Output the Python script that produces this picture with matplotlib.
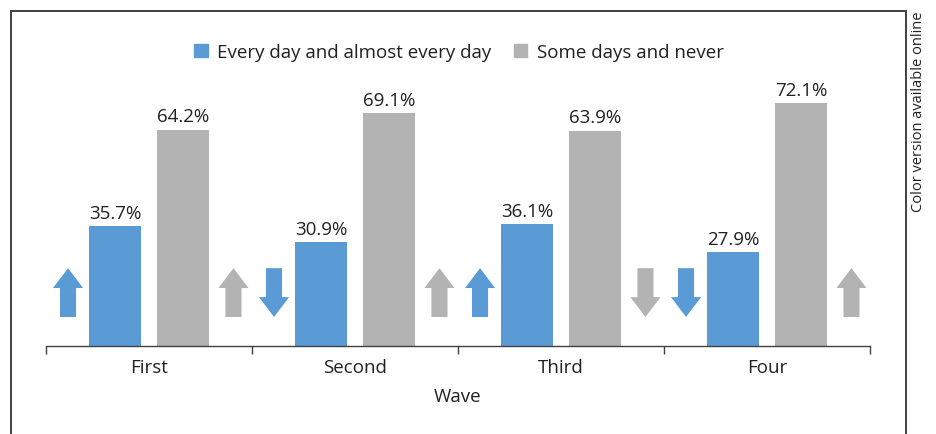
import matplotlib.pyplot as plt
import numpy as np
from matplotlib.patches import Patch, Polygon, Rectangle

waves = ["First", "Second", "Third", "Four"]
daily = [35.7, 30.9, 36.1, 27.9]
some_never = [64.2, 69.1, 63.9, 72.1]
# trend arrows: +1 up, -1 down
daily_trend = [1, -1, 1, -1]
some_trend = [1, 1, -1, 1]

BLUE = "#5b9bd5"
GRAY = "#b3b3b3"
TXT = "#231f20"

plt.rcParams["font.family"] = ["Open Sans", "DejaVu Sans"]

W, H, DPI = 936, 435, 100
fig = plt.figure(figsize=(W / DPI, H / DPI), dpi=DPI)
ax = fig.add_axes([46 / W, (H - 347) / H, 824 / W, 337 / H])


def arrow(ax, xc, direction, color, y0=8.6, y1=23.1, shaft=0.078, head=0.146, hl=5.9):
    sw, hw = shaft / 2, head / 2
    if direction > 0:
        pts = [(xc - sw, y0), (xc + sw, y0), (xc + sw, y1 - hl), (xc + hw, y1 - hl),
               (xc, y1), (xc - hw, y1 - hl), (xc - sw, y1 - hl)]
    else:
        pts = [(xc - sw, y1), (xc + sw, y1), (xc + sw, y0 + hl), (xc + hw, y0 + hl),
               (xc, y0), (xc - hw, y0 + hl), (xc - sw, y0 + hl)]
    ax.add_patch(Polygon(pts, closed=True, facecolor=color, edgecolor="none"))


x = np.arange(len(waves))
bw = 0.257
off = 0.165
b1 = ax.bar(x - off, daily, bw, color=BLUE)
b2 = ax.bar(x + off, some_never, bw, color=GRAY)
for bars in (b1, b2):
    ax.bar_label(bars, labels=[f"{v}%" for v in bars.datavalues], padding=3,
                 fontsize=13.5, color=TXT)

for i in range(len(waves)):
    arrow(ax, x[i] - 0.393, daily_trend[i], BLUE)
    arrow(ax, x[i] + 0.41, some_trend[i], GRAY)

ax.set_xlim(-0.5, len(waves) - 0.5)
ax.set_ylim(0, 100)
for s in ("top", "right", "left"):
    ax.spines[s].set_visible(False)
ax.spines["bottom"].set_color("#404040")
ax.spines["bottom"].set_linewidth(1)
ax.set_yticks([])
ax.set_xticks(np.arange(-0.5, len(waves), 1.0))
ax.set_xticklabels([])
ax.tick_params(axis="x", which="major", length=6, width=1, color="#404040")
ax.set_xticks(x, minor=True)
ax.set_xticklabels(waves, minor=True, fontsize=13.5, color=TXT)
ax.tick_params(axis="x", which="minor", length=0, pad=8.5)
ax.set_xlabel("Wave", fontsize=13.5, color=TXT, labelpad=8)

handles = [Patch(color=BLUE, label="Every day and almost every day"),
           Patch(color=GRAY, label="Some days and never")]
fig.legend(handles=handles, loc="center", bbox_to_anchor=(459 / W, 1 - 53 / H), ncol=2,
           frameon=False, fontsize=13.5, handlelength=0.72, handleheight=0.72,
           handletextpad=0.5, columnspacing=1.2, labelcolor=TXT)

fig.add_artist(Rectangle((11 / W, -0.1), (906 - 11) / W, 1.1 - 12 / H, transform=fig.transFigure,
                         fill=False, edgecolor="#404040", linewidth=1.4, clip_on=False))
fig.text(918 / W, 1 - 12 / H, "Color version available online", rotation=90,
         ha="center", va="top", fontsize=10.5, color=TXT)

fig.savefig("out.png", dpi=DPI)
